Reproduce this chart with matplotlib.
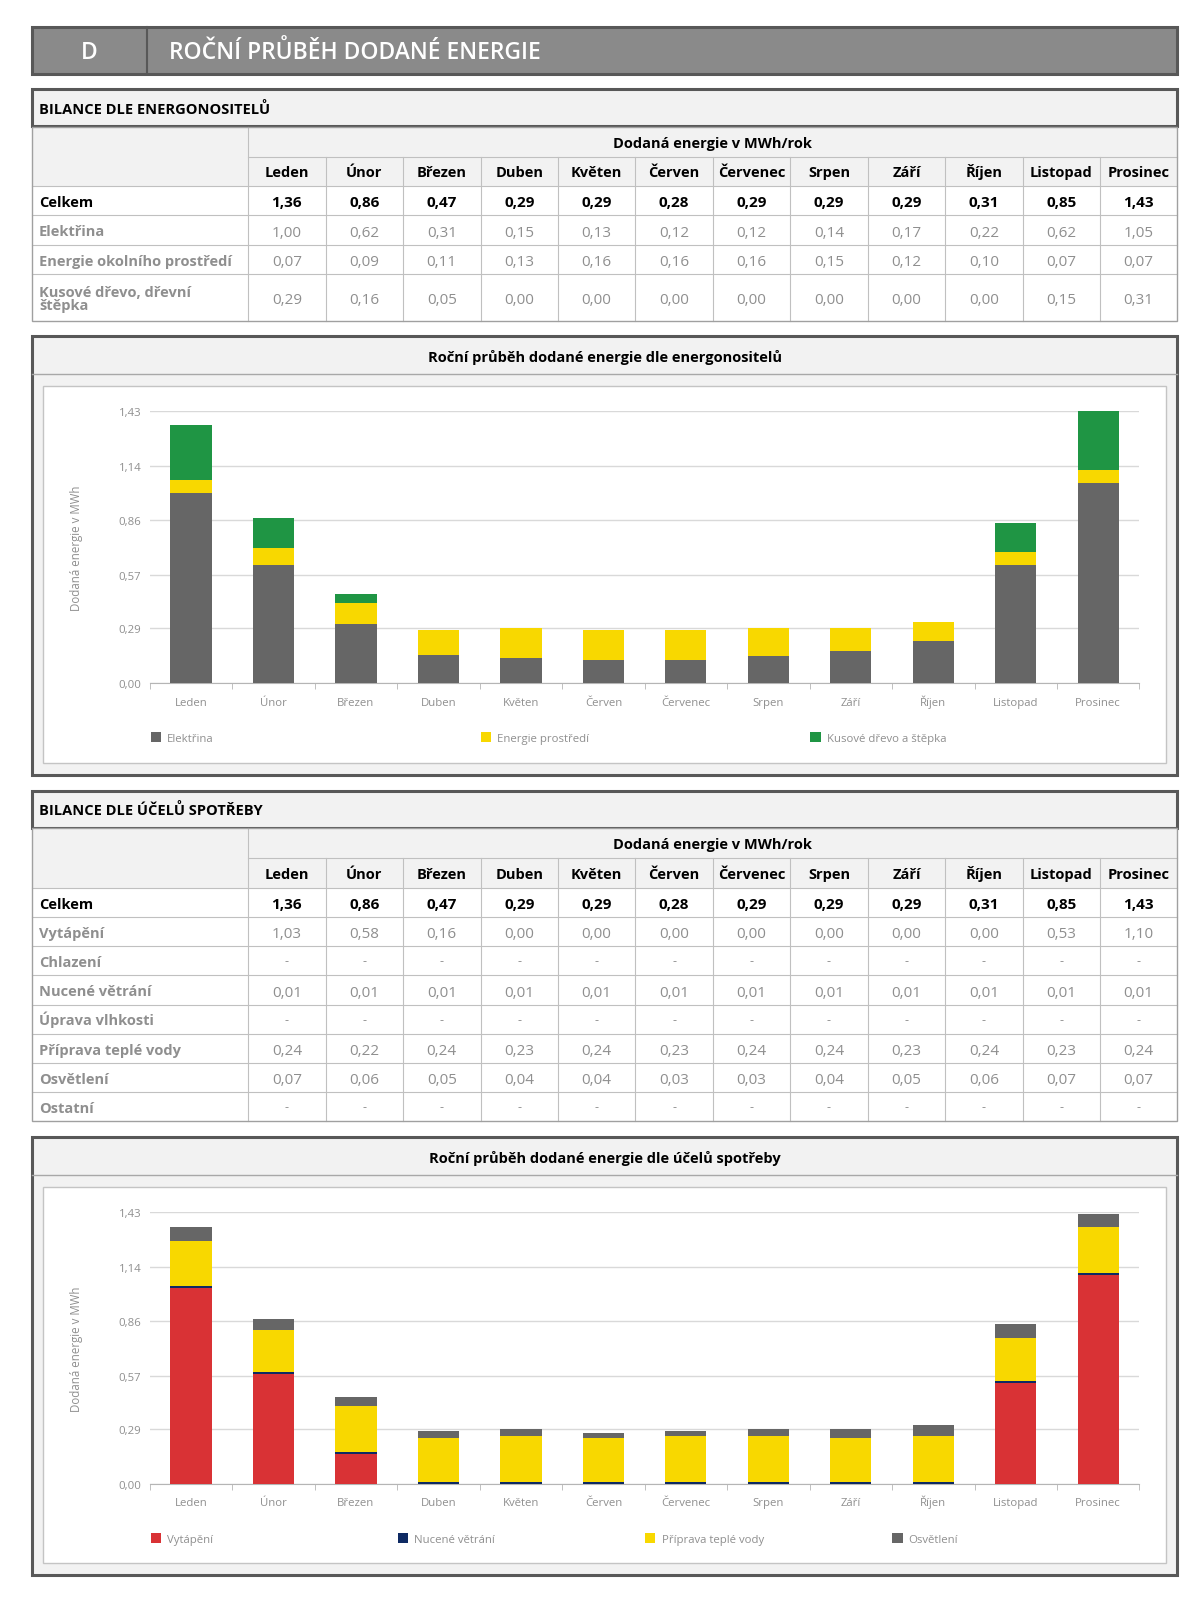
import numpy as np
import matplotlib
matplotlib.use('Agg')
from matplotlib import pyplot as plt
from matplotlib.patches import Rectangle

plt.rcParams['font.family'] = ['Open Sans', 'DejaVu Sans']

months = ['Leden', 'Únor', 'Březen', 'Duben', 'Květen', 'Červen', 'Červenec',
          'Srpen', 'Září', 'Říjen', 'Listopad', 'Prosinec']

# bilance dle energonositelu
celkem = [1.36, 0.86, 0.47, 0.29, 0.29, 0.28, 0.29, 0.29, 0.29, 0.31, 0.85, 1.43]
elektrina = [1.00, 0.62, 0.31, 0.15, 0.13, 0.12, 0.12, 0.14, 0.17, 0.22, 0.62, 1.05]
okoli = [0.07, 0.09, 0.11, 0.13, 0.16, 0.16, 0.16, 0.15, 0.12, 0.10, 0.07, 0.07]
drevo = [0.29, 0.16, 0.05, 0.00, 0.00, 0.00, 0.00, 0.00, 0.00, 0.00, 0.15, 0.31]

# bilance dle ucelu spotreby (None = "-")
vytapeni = [1.03, 0.58, 0.16, 0.00, 0.00, 0.00, 0.00, 0.00, 0.00, 0.00, 0.53, 1.10]
chlazeni = [None, None, None, None, None, None, None, None, None, None, None, None]
vetrani = [0.01, 0.01, 0.01, 0.01, 0.01, 0.01, 0.01, 0.01, 0.01, 0.01, 0.01, 0.01]
vlhkost = [None, None, None, None, None, None, None, None, None, None, None, None]
tepla_voda = [0.24, 0.22, 0.24, 0.23, 0.24, 0.23, 0.24, 0.24, 0.23, 0.24, 0.23, 0.24]
osvetleni = [0.07, 0.06, 0.05, 0.04, 0.04, 0.03, 0.03, 0.04, 0.05, 0.06, 0.07, 0.07]
ostatni = [None, None, None, None, None, None, None, None, None, None, None, None]

yticks = [0.00, 0.29, 0.57, 0.86, 1.14, 1.43]
ymax = 1.43

GRAY_TXT = '#8f8f8f'
DARK = '#585858'
LIGHT_BG = '#f2f2f2'
GRID = '#c0c0c0'

# working in a virtual pixel grid, scaled to the figure
W, H = 1170, 1568
fig = plt.figure(figsize=(12, 16.08), dpi=100)
bg = fig.add_axes([0, 0, 1, 1])
bg.set_xlim(0, W)
bg.set_ylim(H, 0)
bg.axis('off')
bg.set_zorder(0)

X0, XL, X1 = 31, 242, 1148
colw = (X1 - XL) / 12


def rect(x0, y0, x1, y1, fc, ec, lw, z=1):
    bg.add_patch(Rectangle((x0, y0), x1 - x0, y1 - y0, fc=fc, ec=ec, lw=lw, zorder=z))


def fmt(v):
    if v is None:
        return '-'
    return ('%.2f' % v).replace('.', ',')


def txt(x, yc, s, size, **kw):
    # place text by its baseline so accents do not shift it
    off = 0.714 * size * 1.389 / 1.026 / 2
    return bg.text(x, yc + off, s, fontsize=size, va='baseline', **kw)


# main header
rect(X0, 27, X1, 73, '#8a8a8a', DARK, 2.2)
bg.plot([143, 143], [27, 73], color=DARK, lw=1.5, zorder=2)
txt(87, 50, 'D', 16.5, color='white', fontweight='semibold', ha='center')
txt(165, 50, 'ROČNÍ PRŮBĚH DODANÉ ENERGIE', 16.5, color='white',
    fontweight='semibold', ha='left')


def section(top, title):
    rect(X0, top, X1, top + 36, LIGHT_BG, DARK, 2.2)
    txt(38, top + 18, title, 10.5, fontweight='bold', ha='left')


def table(top, h1, h2, labels, rows, heights):
    bottom = top + h1 + h2 + sum(heights)
    rect(X0, top, X1, top + h1 + h2, LIGHT_BG, 'none', 0)
    rect(X0, top, X1, bottom, 'none', '#a0a0a0', 1.0, z=3)
    bg.plot([XL, X1], [top + h1, top + h1], color=GRID, lw=0.8, zorder=2)
    txt((XL + X1) / 2, top + h1 / 2, 'Dodaná energie v MWh/rok', 10.5,
        fontweight='bold', ha='center')
    for i, m in enumerate(months):
        txt(XL + colw * (i + 0.5), top + h1 + h2 / 2, m, 10.5,
            fontweight='bold', ha='center')
    for i in range(1, 12):
        x = XL + colw * i
        bg.plot([x, x], [top + h1, bottom], color=GRID, lw=0.8, zorder=2)
    bg.plot([XL, XL], [top, bottom], color=GRID, lw=0.8, zorder=2)
    y = top + h1 + h2
    for j, (lab, vals, hh) in enumerate(zip(labels, rows, heights)):
        bg.plot([X0, X1], [y, y], color=GRID, lw=0.8, zorder=2)
        first = j == 0
        col = 'black' if first else GRAY_TXT
        if '\n' in lab:
            bg.text(38, y + hh / 2 + 1, lab, fontsize=10.5, fontweight='bold', color=col,
                    ha='left', va='center', linespacing=0.95)
        else:
            txt(38, y + hh / 2, lab, 10.5, fontweight='bold', color=col, ha='left')
        for i, v in enumerate(vals):
            if v is None:
                bg.text(XL + colw * (i + 0.5), y + hh / 2, '-', fontsize=9,
                        color=col, ha='center', va='center')
            else:
                txt(XL + colw * (i + 0.5), y + hh / 2, fmt(v), 11,
                    fontweight='bold' if first else 'normal', color=col, ha='center')
        y += hh


def chart_box(top, bottom, title):
    rect(X0, top, X1, bottom, LIGHT_BG, DARK, 2.2)
    bg.plot([X0, X1], [top + 37, top + 37], color='#a8a8a8', lw=1.0, zorder=2)
    txt((X0 + X1) / 2, top + 19, title, 10.5, fontweight='bold', ha='center')
    rect(42, top + 48, 1137, bottom - 12, 'white', '#c4c4c4', 1.0, z=2)


def chart_axes(y0, ytop):
    ax = fig.add_axes([146 / W, 1 - y0 / H, (1111 - 146) / W, (y0 - ytop) / H])
    ax.set_zorder(2)
    ax.patch.set_alpha(0)
    ax.set_xlim(-0.5, 11.5)
    ax.set_ylim(0, ymax)
    ax.set_yticks(yticks)
    ax.set_yticklabels([fmt(t) for t in yticks])
    ax.set_xticks(np.arange(12))
    ax.set_xticklabels(months)
    for lab in ax.get_xticklabels():
        lab.set_verticalalignment('baseline')
    ax.set_xticks(np.arange(-0.5, 12, 1), minor=True)
    for s in ['top', 'right', 'left']:
        ax.spines[s].set_visible(False)
    ax.spines['bottom'].set_color('#b5b5b5')
    ax.grid(axis='y', color='#d9d9d9', lw=1.0)
    ax.set_axisbelow(True)
    ax.tick_params(axis='x', which='major', length=0, pad=15.5, labelsize=8.2, labelcolor=GRAY_TXT)
    ax.tick_params(axis='x', which='minor', length=4, color='#b5b5b5')
    ax.tick_params(axis='y', length=0, pad=6, labelsize=8.2, labelcolor=GRAY_TXT)
    ax.text(-0.0736, 0.5, 'Dodaná energie v MWh', transform=ax.transAxes, rotation=90,
            ha='center', va='center', fontsize=8.3, color=GRAY_TXT)
    return ax


def legend(y, names, colors, step):
    for i, (n, c) in enumerate(zip(names, colors)):
        x = 147 + step * i
        rect(x, y - 5, x + 10, y + 5, c, 'none', 0, z=3)
        txt(x + 16, y, n, 8.2, color=GRAY_TXT, ha='left', zorder=3)


# ---- part 1
section(88, 'BILANCE DLE ENERGONOSITELŮ')
table(125, 29, 28,
      ['Celkem', 'Elektřina', 'Energie okolního prostředí', 'Kusové dřevo, dřevní\nštěpka'],
      [celkem, elektrina, okoli, drevo], [29, 29, 28, 46])

chart_box(329, 757, 'Roční průběh dodané energie dle energonositelů')
ax1 = chart_axes(667, 402)
x = np.arange(12)
bw = 0.5
c1 = ['#666666', '#f8d800', '#1f9544']
b = np.zeros(12)
for vals, c in zip([elektrina, okoli, drevo], c1):
    ax1.bar(x, vals, bw, bottom=b, color=c, zorder=3)
    b = b + np.array(vals)
legend(720, ['Elektřina', 'Energie prostředí', 'Kusové dřevo a štěpka'], c1, 321.5)

# ---- part 2
section(772, 'BILANCE DLE ÚČELŮ SPOTŘEBY')
table(808, 30, 29,
      ['Celkem', 'Vytápění', 'Chlazení', 'Nucené větrání', 'Úprava vlhkosti',
       'Příprava teplé vody', 'Osvětlení', 'Ostatní'],
      [celkem, vytapeni, chlazeni, vetrani, vlhkost, tepla_voda, osvetleni, ostatni],
      [28.4] * 8)

chart_box(1110, 1537, 'Roční průběh dodané energie dle účelů spotřeby')
ax2 = chart_axes(1448, 1183)
c2 = ['#d93235', '#0e2a63', '#f8d800', '#666666']
b = np.zeros(12)
for vals, c in zip([vytapeni, vetrani, tepla_voda, osvetleni], c2):
    ax2.bar(x, vals, bw, bottom=b, color=c, zorder=3)
    b = b + np.array(vals)
legend(1501, ['Vytápění', 'Nucené větrání', 'Příprava teplé vody', 'Osvětlení'], c2, 241)

fig.savefig('out.png', dpi=100, facecolor='white')
